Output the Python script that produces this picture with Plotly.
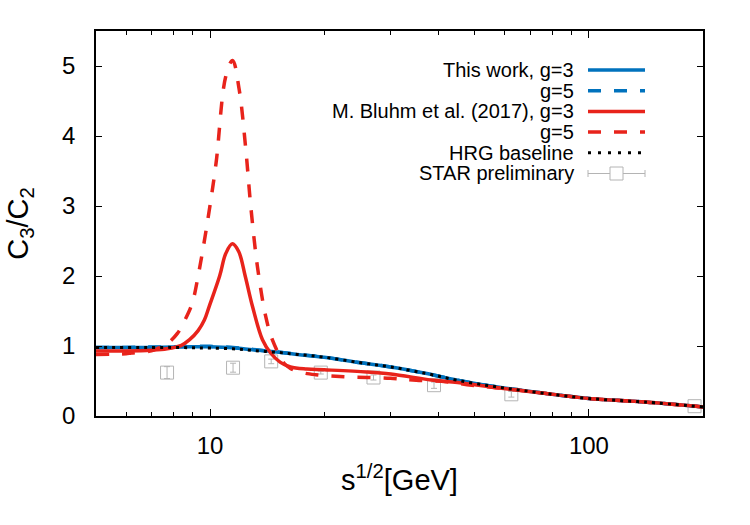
import plotly.graph_objects as go

# ---------------- data ----------------
x_hrg = [5, 6, 7, 8, 9, 10, 11.5, 13, 15, 17, 20, 25, 30, 37, 45, 58, 75, 100, 140, 200]
y_hrg = [0.98, 0.98, 0.98, 0.98, 0.975, 0.97, 0.96, 0.935, 0.91, 0.88, 0.84, 0.76, 0.70, 0.61, 0.51, 0.41, 0.33, 0.25, 0.20, 0.13]

x_tw = [5, 6, 7, 8, 9, 10, 11.5, 13, 15, 17, 20, 25, 30, 37, 45, 58, 75, 100, 140, 200]
y_tw_g3 = [0.98, 0.98, 0.98, 0.985, 0.99, 0.99, 0.975, 0.945, 0.915, 0.88, 0.84, 0.76, 0.70, 0.61, 0.51, 0.41, 0.33, 0.25, 0.20, 0.13]
y_tw_g5 = [0.98, 0.98, 0.985, 0.99, 0.995, 0.995, 0.98, 0.95, 0.915, 0.88, 0.84, 0.76, 0.70, 0.61, 0.51, 0.41, 0.33, 0.25, 0.20, 0.13]

x_bl3 = [5, 6, 7, 7.7, 8.4, 8.83, 9.3, 9.66, 9.94, 10.6, 11.0, 11.45, 11.9, 12.38, 12.95, 13.75, 14.45, 15.3, 16.3, 18, 20, 25.9, 30, 38.8, 45, 58, 75, 100, 140, 200]
y_bl3 = [0.93, 0.93, 0.94, 0.96, 1.01, 1.09, 1.22, 1.37, 1.56, 2.0, 2.32, 2.46, 2.35, 2.0, 1.56, 1.09, 0.90, 0.77, 0.70, 0.67, 0.66, 0.63, 0.60, 0.51, 0.48, 0.40, 0.33, 0.25, 0.20, 0.13]

x_bl5 = [5, 6, 6.2, 7, 7.3, 7.7, 8.2, 8.6, 8.97, 9.33, 9.86, 10.37, 11.0, 11.47, 11.94, 12.43, 12.81, 13.34, 14.03, 14.6, 15.7, 16.3, 17.5, 19, 22.9, 29.9, 35, 42, 49, 58, 75, 100, 140, 200]
y_bl5 = [0.88, 0.89, 0.90, 0.93, 0.97, 1.03, 1.18, 1.38, 1.61, 2.04, 2.80, 3.61, 4.85, 5.08, 4.66, 3.80, 2.99, 2.13, 1.42, 1.09, 0.75, 0.68, 0.62, 0.59, 0.56, 0.54, 0.51, 0.49, 0.44, 0.40, 0.33, 0.25, 0.20, 0.13]

x_star = [7.7, 11.5, 14.5, 19.6, 27, 39, 62.4, 190]
y_star = [0.62, 0.69, 0.78, 0.62, 0.55, 0.44, 0.31, 0.14]
e_star = [0.085, 0.064, 0.033, 0.02, 0.036, 0.045, 0.04, 0.02]

x_major = [10, 100]
x_minor = [6, 7, 8, 9, 20, 30, 40, 50, 60, 70, 80, 90, 200]
y_ticks = [0, 1, 2, 3, 4, 5]

legend_labels = ["This work, g=3", "g=5", "M. Bluhm et al. (2017), g=3", "g=5", "HRG baseline", "STAR preliminary"]

BLUE = "#0072bd"
RED = "#e8231b"
GRAY = "#b4b4b4"
FONT = "Liberation Sans, Arial, sans-serif"

fig = go.Figure()

fig.add_trace(go.Scatter(x=x_star, y=y_star, mode="markers",
                         marker=dict(symbol="square-open", size=13, color=GRAY, line=dict(width=1, color=GRAY)),
                         error_y=dict(type="data", array=e_star, color=GRAY, thickness=1, width=3),
                         showlegend=False))
fig.add_trace(go.Scatter(x=x_tw, y=y_tw_g3, mode="lines", line=dict(color=BLUE, width=3.5, shape="spline"), showlegend=False))
fig.add_trace(go.Scatter(x=x_tw, y=y_tw_g5, mode="lines", line=dict(color=BLUE, width=3.5, dash="13px,13px", shape="spline"), showlegend=False))
fig.add_trace(go.Scatter(x=x_bl3, y=y_bl3, mode="lines", line=dict(color=RED, width=3.5, shape="spline"), showlegend=False))
fig.add_trace(go.Scatter(x=x_bl5, y=y_bl5, mode="lines", line=dict(color=RED, width=3.5, dash="13px,13px", shape="spline"), showlegend=False))
fig.add_trace(go.Scatter(x=x_hrg, y=y_hrg, mode="lines", line=dict(color="black", width=3, dash="3px,5px", shape="spline"), showlegend=False))

# ---------------- custom legend (right-aligned text, sample to the right) ----------------
L, R, T, B = 96, 703, 31, 416
W, H = R - L, B - T
def px(xp): return (xp - L) / W
def py(yp): return (B - yp) / H

row_y = [70, 90.7, 111.4, 132.1, 152.8, 173.5]
styles = [(BLUE, "solid", 3.5), (BLUE, "13px,13px", 3.5), (RED, "solid", 3.5), (RED, "13px,13px", 3.5), ("black", "3px,7px", 3)]
for i, lab in enumerate(legend_labels):
    fig.add_annotation(x=px(576), y=py(row_y[i]), xref="paper", yref="paper", text=lab, showarrow=False,
                       xanchor="right", yanchor="middle", font=dict(size=20, color="black", family=FONT))
for i, (c, d, w) in enumerate(styles):
    fig.add_shape(type="line", xref="paper", yref="paper", x0=px(588), x1=px(645), y0=py(row_y[i]), y1=py(row_y[i]),
                  line=dict(color=c, width=w, dash=d))
ys = row_y[5]
fig.add_shape(type="line", xref="paper", yref="paper", x0=px(588), x1=px(645), y0=py(ys), y1=py(ys), line=dict(color=GRAY, width=1))
for xe in (588, 645):
    fig.add_shape(type="line", xref="paper", yref="paper", x0=px(xe), x1=px(xe), y0=py(ys - 3.5), y1=py(ys + 3.5), line=dict(color=GRAY, width=1))
fig.add_shape(type="rect", xref="paper", yref="paper", x0=px(610), x1=px(623), y0=py(ys - 6.5), y1=py(ys + 6.5),
              line=dict(color=GRAY, width=1), fillcolor="white")

fig.update_layout(
    width=750, height=525,
    margin=dict(l=L, r=750 - R, t=T, b=525 - B),
    paper_bgcolor="white", plot_bgcolor="white",
    font=dict(family=FONT, color="black", size=24),
    showlegend=False,
)
fig.update_xaxes(type="log", range=[0.69897, 2.30103], showgrid=False, zeroline=False,
                 showline=True, linecolor="black", linewidth=1.5, mirror="ticks",
                 ticks="inside", ticklen=7, tickwidth=1, tickcolor="black",
                 tickvals=x_major, ticktext=[str(v) for v in x_major],
                 tickfont=dict(size=24), ticklabelstandoff=7,
                 minor=dict(tickvals=x_minor, ticks="inside", ticklen=4, tickwidth=1, tickcolor="black", showgrid=False),
                 title=dict(text="s<sup>1/2</sup>[GeV]", font=dict(size=29), standoff=12))
fig.update_yaxes(range=[0, 5.5], showgrid=False, zeroline=False,
                 showline=True, linecolor="black", linewidth=1.5, mirror="ticks",
                 ticks="inside", ticklen=6, tickwidth=1, tickcolor="black",
                 tickvals=y_ticks, tickfont=dict(size=24), ticklabelstandoff=14,
                 title=dict(text="C<sub>3</sub>/C<sub>2</sub>", font=dict(size=29), standoff=25))

fig.write_html("out.html")
